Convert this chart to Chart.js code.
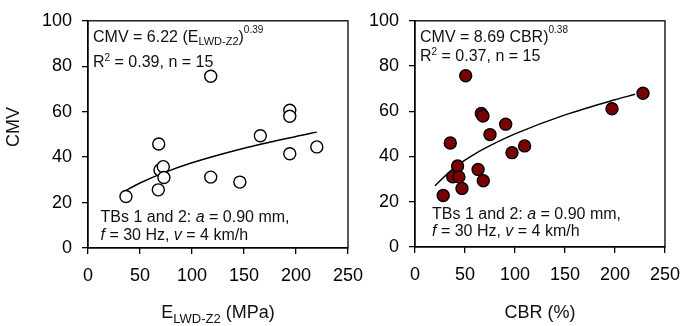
<!DOCTYPE html>
<html>
<head>
<meta charset="utf-8">
<script src="https://cdn.jsdelivr.net/npm/chart.js@4.4.0/dist/chart.umd.min.js"></script>
<style>
  html, body { margin: 0; padding: 0; background: #fff; }
  #wrap { position: relative; width: 691px; height: 326px; overflow: hidden; }
  .box { position: absolute; top: 0; height: 326px; }
</style>
</head>
<body>
<div id="wrap">
  <div class="box" style="left:0; width:380px"><canvas id="lwdChart"></canvas></div>
  <div class="box" style="left:360px; width:331px"><canvas id="cbrChart"></canvas></div>
</div>
<script>
// values
const lwdX = [36.5, 67.6, 68, 69.2, 72.4, 73, 118, 118, 146, 165.7, 194, 194, 194, 220];
const lwdY = [22.7, 25.6, 45.8, 34.3, 35.8, 31, 75.6, 31.2, 29, 49.4, 60.6, 58, 41.5, 44.5];
const lwdFitX = [35, 50, 75, 100, 150, 200, 220];
const lwdFitY = [25, 28.6, 33.5, 37.5, 43.9, 49.1, 51];

const cbrX = [28.2, 35.3, 37.8, 42.6, 43.9, 47, 50.7, 63.1, 66.3, 68, 68.3, 75, 90.7, 97, 109.6, 197, 228];
const cbrY = [22.8, 46, 31, 35.8, 31, 25.9, 75.7, 34.3, 59, 57.9, 29.3, 49.7, 54.3, 41.7, 44.7, 61.1, 68];
const cbrFitX = [20, 40, 60, 80, 100, 150, 200, 220];
const cbrFitY = [27.1, 35.3, 41.2, 45.9, 50, 58.4, 65.1, 67.5];

const xTicks = [0, 50, 100, 150, 200, 250];
const yTicks = [0, 20, 40, 60, 80, 100];

const FAM = '"Liberation Sans", Arial, sans-serif';
const norm = `16px ${FAM}`;
const ital = `italic 16px ${FAM}`;
const small = `11px ${FAM}`;
const sup = `10px ${FAM}`;
const title = `18px ${FAM}`;

function toPts(xs, ys) {
    return xs.map((x, i) => ({ x: x, y: ys[i] }));
}

function drawRuns(ctx, x, y, runs) {
    runs.forEach(r => {
        ctx.font = r[1];
        ctx.fillText(r[0], x, y + (r[2] || 0));
        x += ctx.measureText(r[0]).width;
    });
}

function runsWidth(ctx, runs) {
    let w = 0;
    runs.forEach(r => { ctx.font = r[1]; w += ctx.measureText(r[0]).width; });
    return w;
}

// text drawn inside/around the plot, positions relative to chart area
function notesPlugin(notes) {
    return {
        id: 'notes',
        afterDraw(chart) {
            const ctx = chart.ctx, ca = chart.chartArea;
            ctx.save();
            // frame
            ctx.strokeStyle = '#000';
            ctx.lineWidth = 1.3;
            ctx.strokeRect(ca.left, ca.top, ca.right - ca.left, ca.bottom - ca.top);
            ctx.fillStyle = '#111';
            ctx.textBaseline = 'alphabetic';
            ctx.textAlign = 'left';
            notes.top.forEach(n => drawRuns(ctx, ca.left + n.dx, ca.top + n.dy, n.runs));
            notes.bottom.forEach(n => drawRuns(ctx, ca.left + n.dx, ca.bottom - n.dy, n.runs));
            // x axis title
            const w = runsWidth(ctx, notes.xTitle);
            drawRuns(ctx, (ca.left + ca.right) / 2 - w / 2, 318, notes.xTitle);
            if (notes.yTitle) {
                ctx.translate(14, 127);
                ctx.rotate(-Math.PI / 2);
                ctx.font = title;
                ctx.textAlign = 'center';
                ctx.textBaseline = 'middle';
                ctx.fillText(notes.yTitle, 0, 0);
            }
            ctx.restore();
        }
    };
}

function makeChart(id, pts, fit, fill, dims, notes) {
    const tickFont = { family: FAM, size: 18 };
    const grid = { display: true, drawOnChartArea: false, drawTicks: true, tickLength: 6, color: '#000', lineWidth: 1.3 };
    return new Chart(document.getElementById(id), {
        type: 'scatter',
        data: {
            datasets: [
                { data: pts, pointRadius: 6, pointHoverRadius: 6, pointBackgroundColor: fill, pointBorderColor: '#000', pointBorderWidth: 1.4 },
                { data: fit, showLine: true, pointRadius: 0, borderColor: '#000', borderWidth: 1.5, tension: 0.4, cubicInterpolationMode: 'monotone' }
            ]
        },
        options: {
            responsive: true,
            maintainAspectRatio: false,
            animation: false,
            layout: { padding: { top: dims.top, right: dims.right, left: 0, bottom: 0 } },
            plugins: { legend: { display: false }, tooltip: { enabled: false } },
            scales: {
                x: {
                    type: 'linear', min: 0, max: 250,
                    afterBuildTicks: s => { s.ticks = xTicks.map(v => ({ value: v })); },
                    ticks: { color: '#000', font: tickFont, padding: 11, maxRotation: 0 },
                    grid: grid,
                    border: { display: true, color: '#000', width: 1.3 },
                    afterFit: s => { s.height = dims.bottom; }
                },
                y: {
                    type: 'linear', min: 0, max: 100,
                    afterBuildTicks: s => { s.ticks = yTicks.map(v => ({ value: v })); },
                    ticks: { color: '#000', font: tickFont, padding: 10 },
                    grid: grid,
                    border: { display: true, color: '#000', width: 1.3 },
                    afterFit: s => { s.width = dims.left; }
                }
            }
        },
        plugins: [notesPlugin(notes)]
    });
}

makeChart('lwdChart', toPts(lwdX, lwdY), toPts(lwdFitX, lwdFitY), '#ffffff',
    { left: 88, right: 32, top: 16, bottom: 78 },
    {
        top: [
            { dx: 5, dy: 21, runs: [['CMV = 6.22 (E', norm], ['LWD-Z2', small, 3.5], [')', norm], ['0.39', sup, -9]] },
            { dx: 5, dy: 46, runs: [['R', norm], ['2', sup, -6], [' = 0.39, n = 15', norm]] }
        ],
        bottom: [
            { dx: 12.5, dy: 26, runs: [['TBs 1 and 2: ', norm], ['a', ital], [' = 0.90 mm,', norm]] },
            { dx: 12.5, dy: 8, runs: [['f', ital], [' = 30 Hz, ', norm], ['v', ital], [' = 4 km/h', norm]] }
        ],
        xTitle: [['E', title], ['LWD-Z2', `13px ${FAM}`, 5], [' (MPa)', title]],
        yTitle: 'CMV'
    });

makeChart('cbrChart', toPts(cbrX, cbrY), toPts(cbrFitX, cbrFitY), '#7a0000',
    { left: 55, right: 16, top: 15, bottom: 79 },
    {
        top: [
            { dx: 5, dy: 21, runs: [['CMV = 8.69 CBR)', norm], ['0.38', sup, -9]] },
            { dx: 5, dy: 40, runs: [['R', norm], ['2', sup, -6], [' = 0.37, n = 15', norm]] }
        ],
        bottom: [
            { dx: 17, dy: 28, runs: [['TBs 1 and 2: ', norm], ['a', ital], [' = 0.90 mm,', norm]] },
            { dx: 17, dy: 11, runs: [['f', ital], [' = 30 Hz, ', norm], ['v', ital], [' = 4 km/h', norm]] }
        ],
        xTitle: [['CBR (%)', title]],
        yTitle: null
    });
</script>
</body>
</html>
